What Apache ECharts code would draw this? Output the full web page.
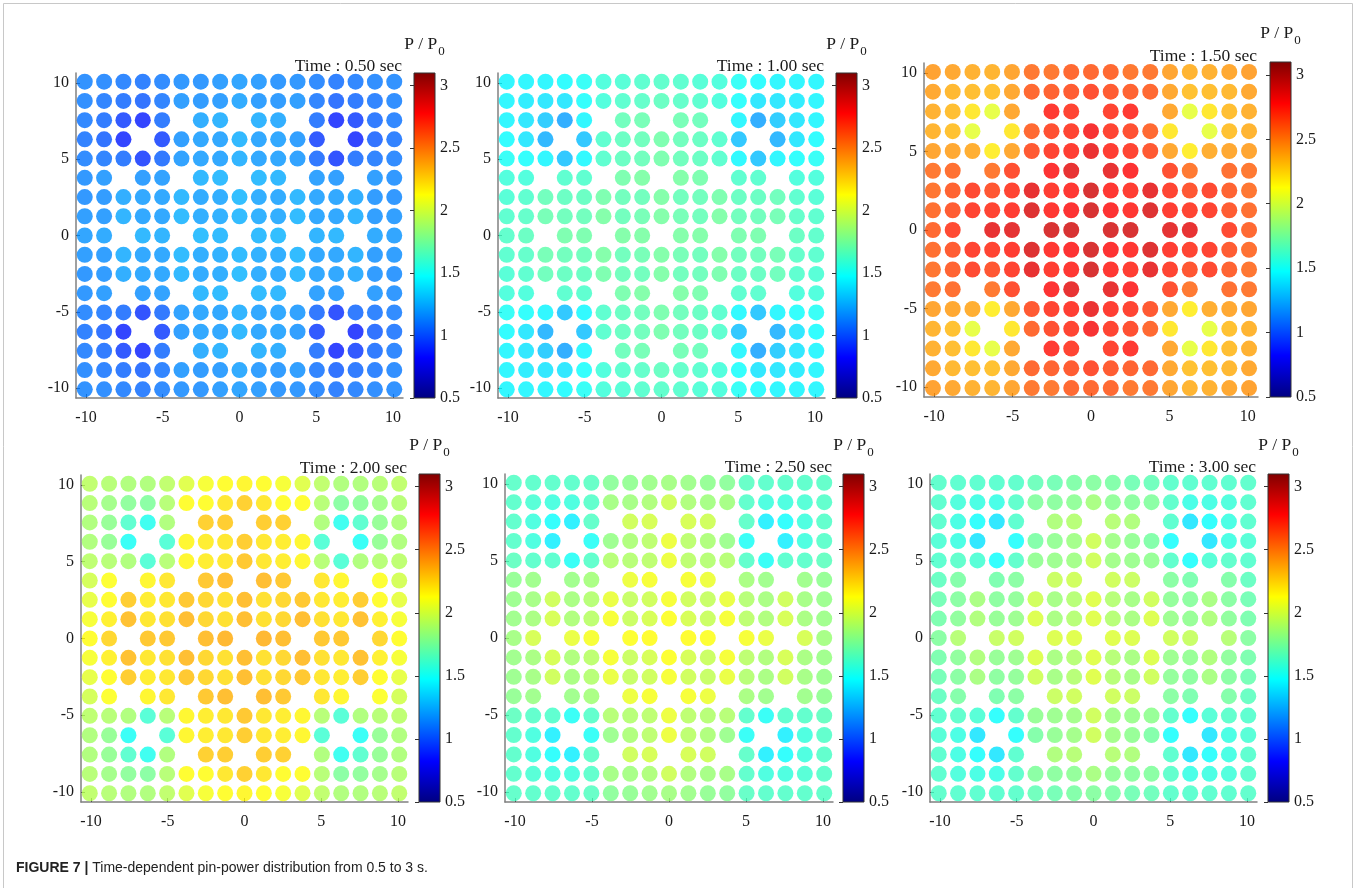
<!DOCTYPE html>
<html>
<head>
<meta charset="utf-8">
<title>Time-dependent pin-power distribution</title>
<script src="https://cdn.jsdelivr.net/npm/echarts@6/dist/echarts.min.js"></script>
<style>
  html, body { margin: 0; padding: 0; background: #fff; }
  #chart { width: 1356px; height: 888px; }
</style>
</head>
<body>
<div id="chart"></div>
<script>
const _ = null; // guide tube / instrument tube, no fuel pin

// pin centre coordinates, left -> right (also bottom -> top)
const pinPos = [-10.08, -8.82, -7.56, -6.30, -5.04, -3.78, -2.52, -1.26, 0,
                1.26, 2.52, 3.78, 5.04, 6.30, 7.56, 8.82, 10.08];

// P/P0 per pin, rows from top (y = 10.08) to bottom (y = -10.08)
const p050 = [
  [1.13,1.12,1.10,1.08,1.11,1.15,1.15,1.17,1.19,1.17,1.15,1.15,1.11,1.08,1.10,1.12,1.13],
  [1.12,1.09,1.06,1.03,1.09,1.17,1.16,1.17,1.21,1.17,1.16,1.17,1.09,1.03,1.06,1.09,1.12],
  [1.10,1.06,0.95,0.88,1.06,_,1.22,1.24,_,1.24,1.22,_,1.06,0.88,0.95,1.06,1.10],
  [1.08,1.03,0.88,_,0.95,1.17,1.20,1.20,1.25,1.20,1.20,1.17,0.95,_,0.88,1.03,1.08],
  [1.11,1.09,1.06,0.93,1.05,1.18,1.20,1.20,1.24,1.20,1.20,1.18,1.05,0.93,1.06,1.09,1.11],
  [1.15,1.17,_,1.17,1.18,_,1.25,1.26,_,1.26,1.25,_,1.18,1.17,_,1.17,1.15],
  [1.15,1.16,1.22,1.20,1.20,1.25,1.21,1.22,1.27,1.22,1.21,1.25,1.20,1.20,1.22,1.16,1.15],
  [1.17,1.17,1.24,1.20,1.20,1.26,1.22,1.23,1.26,1.23,1.22,1.26,1.20,1.20,1.24,1.17,1.17],
  [1.19,1.21,_,1.25,1.24,_,1.27,1.26,_,1.26,1.27,_,1.24,1.25,_,1.21,1.19],
  [1.17,1.17,1.24,1.20,1.20,1.26,1.22,1.23,1.26,1.23,1.22,1.26,1.20,1.20,1.24,1.17,1.17],
  [1.15,1.16,1.22,1.20,1.20,1.25,1.21,1.22,1.27,1.22,1.21,1.25,1.20,1.20,1.22,1.16,1.15],
  [1.15,1.17,_,1.17,1.18,_,1.25,1.26,_,1.26,1.25,_,1.18,1.17,_,1.17,1.15],
  [1.11,1.09,1.06,0.93,1.05,1.18,1.20,1.20,1.24,1.20,1.20,1.18,1.05,0.93,1.06,1.09,1.11],
  [1.08,1.03,0.88,_,0.95,1.17,1.20,1.20,1.25,1.20,1.20,1.17,0.95,_,0.88,1.03,1.08],
  [1.10,1.06,0.95,0.88,1.06,_,1.22,1.24,_,1.24,1.22,_,1.06,0.88,0.95,1.06,1.10],
  [1.12,1.09,1.06,1.03,1.09,1.17,1.16,1.17,1.21,1.17,1.16,1.17,1.09,1.03,1.06,1.09,1.12],
  [1.13,1.12,1.10,1.08,1.11,1.15,1.15,1.17,1.19,1.17,1.15,1.15,1.11,1.08,1.10,1.12,1.13]
];

const p100 = [
  [1.45,1.45,1.45,1.47,1.50,1.58,1.60,1.62,1.63,1.62,1.60,1.58,1.50,1.47,1.45,1.45,1.45],
  [1.45,1.42,1.40,1.40,1.48,1.58,1.62,1.64,1.66,1.64,1.62,1.58,1.48,1.40,1.40,1.42,1.45],
  [1.45,1.40,1.32,1.22,1.45,_,1.68,1.70,_,1.70,1.68,_,1.45,1.22,1.32,1.40,1.45],
  [1.47,1.40,1.25,_,1.30,1.62,1.66,1.68,1.72,1.68,1.66,1.62,1.30,_,1.25,1.40,1.47],
  [1.50,1.48,1.45,1.30,1.46,1.62,1.66,1.68,1.72,1.68,1.66,1.62,1.46,1.30,1.45,1.48,1.50],
  [1.58,1.58,_,1.62,1.62,_,1.72,1.74,_,1.74,1.72,_,1.62,1.62,_,1.58,1.58],
  [1.60,1.62,1.68,1.66,1.66,1.72,1.68,1.68,1.74,1.68,1.68,1.72,1.66,1.66,1.68,1.62,1.60],
  [1.62,1.64,1.70,1.68,1.68,1.74,1.68,1.70,1.74,1.70,1.68,1.74,1.68,1.68,1.70,1.64,1.62],
  [1.63,1.66,_,1.72,1.72,_,1.74,1.74,_,1.74,1.74,_,1.72,1.72,_,1.66,1.63],
  [1.62,1.64,1.70,1.68,1.68,1.74,1.68,1.70,1.74,1.70,1.68,1.74,1.68,1.68,1.70,1.64,1.62],
  [1.60,1.62,1.68,1.66,1.66,1.72,1.68,1.68,1.74,1.68,1.68,1.72,1.66,1.66,1.68,1.62,1.60],
  [1.58,1.58,_,1.62,1.62,_,1.72,1.74,_,1.74,1.72,_,1.62,1.62,_,1.58,1.58],
  [1.50,1.48,1.45,1.30,1.46,1.62,1.66,1.68,1.72,1.68,1.66,1.62,1.46,1.30,1.45,1.48,1.50],
  [1.47,1.40,1.25,_,1.30,1.62,1.66,1.68,1.72,1.68,1.66,1.62,1.30,_,1.25,1.40,1.47],
  [1.45,1.40,1.32,1.22,1.45,_,1.68,1.70,_,1.70,1.68,_,1.45,1.22,1.32,1.40,1.45],
  [1.45,1.42,1.40,1.40,1.48,1.58,1.62,1.64,1.66,1.64,1.62,1.58,1.48,1.40,1.40,1.42,1.45],
  [1.45,1.45,1.45,1.47,1.50,1.58,1.60,1.62,1.63,1.62,1.60,1.58,1.50,1.47,1.45,1.45,1.45]
];

const p150 = [
  [2.42,2.40,2.37,2.36,2.41,2.55,2.55,2.60,2.60,2.60,2.55,2.55,2.41,2.36,2.37,2.40,2.42],
  [2.40,2.35,2.33,2.32,2.40,2.60,2.62,2.64,2.68,2.64,2.62,2.60,2.40,2.32,2.33,2.35,2.40],
  [2.37,2.33,2.20,2.05,2.40,_,2.75,2.72,_,2.72,2.75,_,2.40,2.05,2.20,2.33,2.37],
  [2.36,2.32,2.05,_,2.20,2.60,2.68,2.72,2.80,2.72,2.68,2.60,2.20,_,2.05,2.32,2.36],
  [2.41,2.40,2.38,2.18,2.40,2.65,2.72,2.74,2.84,2.74,2.72,2.65,2.40,2.18,2.38,2.40,2.41],
  [2.55,2.58,_,2.55,2.68,_,2.78,2.85,_,2.85,2.78,_,2.68,2.55,_,2.58,2.55],
  [2.56,2.62,2.70,2.66,2.72,2.85,2.74,2.76,2.90,2.76,2.74,2.85,2.72,2.66,2.70,2.62,2.56],
  [2.58,2.64,2.72,2.72,2.74,2.88,2.76,2.78,2.90,2.78,2.76,2.88,2.74,2.72,2.72,2.64,2.58],
  [2.60,2.70,_,2.85,2.86,_,2.90,2.90,_,2.90,2.90,_,2.86,2.85,_,2.70,2.60],
  [2.58,2.64,2.72,2.72,2.74,2.88,2.76,2.78,2.90,2.78,2.76,2.88,2.74,2.72,2.72,2.64,2.58],
  [2.56,2.62,2.70,2.66,2.72,2.85,2.74,2.76,2.90,2.76,2.74,2.85,2.72,2.66,2.70,2.62,2.56],
  [2.55,2.58,_,2.55,2.68,_,2.78,2.85,_,2.85,2.78,_,2.68,2.55,_,2.58,2.55],
  [2.41,2.40,2.38,2.18,2.40,2.65,2.72,2.74,2.84,2.74,2.72,2.65,2.40,2.18,2.38,2.40,2.41],
  [2.36,2.32,2.05,_,2.20,2.60,2.68,2.72,2.80,2.72,2.68,2.60,2.20,_,2.05,2.32,2.36],
  [2.37,2.33,2.20,2.05,2.40,_,2.75,2.72,_,2.72,2.75,_,2.40,2.05,2.20,2.33,2.37],
  [2.40,2.35,2.33,2.32,2.40,2.60,2.62,2.64,2.68,2.64,2.62,2.60,2.40,2.32,2.33,2.35,2.40],
  [2.42,2.40,2.37,2.36,2.41,2.55,2.55,2.60,2.60,2.60,2.55,2.55,2.41,2.36,2.37,2.40,2.42]
];

const p200 = [
  [1.93,1.90,1.88,1.88,1.93,2.03,2.10,2.13,2.15,2.13,2.10,2.03,1.93,1.88,1.88,1.90,1.93],
  [1.90,1.84,1.78,1.76,1.90,2.13,2.13,2.20,2.27,2.20,2.13,2.13,1.90,1.76,1.78,1.84,1.90],
  [1.88,1.80,1.62,1.52,1.88,_,2.27,2.28,_,2.28,2.27,_,1.88,1.52,1.62,1.80,1.88],
  [1.88,1.80,1.50,_,1.60,2.15,2.18,2.20,2.28,2.20,2.18,2.15,1.60,_,1.50,1.80,1.88],
  [1.92,1.90,1.88,1.60,1.90,2.15,2.18,2.20,2.30,2.20,2.18,2.15,1.90,1.60,1.88,1.90,1.92],
  [1.99,2.12,_,2.15,2.20,_,2.30,2.33,_,2.33,2.30,_,2.20,2.15,_,2.12,1.99],
  [2.05,2.13,2.28,2.18,2.20,2.30,2.25,2.22,2.33,2.22,2.25,2.30,2.20,2.18,2.28,2.13,2.05],
  [2.10,2.17,2.32,2.20,2.22,2.33,2.25,2.22,2.33,2.22,2.25,2.33,2.22,2.20,2.32,2.17,2.10],
  [2.13,2.25,_,2.30,2.30,_,2.33,2.35,_,2.35,2.33,_,2.30,2.30,_,2.25,2.13],
  [2.10,2.17,2.32,2.20,2.22,2.33,2.25,2.22,2.33,2.22,2.25,2.33,2.22,2.20,2.32,2.17,2.10],
  [2.05,2.13,2.28,2.18,2.20,2.30,2.25,2.22,2.33,2.22,2.25,2.30,2.20,2.18,2.28,2.13,2.05],
  [1.99,2.12,_,2.15,2.20,_,2.30,2.33,_,2.33,2.30,_,2.20,2.15,_,2.12,1.99],
  [1.92,1.90,1.88,1.60,1.90,2.15,2.18,2.20,2.30,2.20,2.18,2.15,1.90,1.60,1.88,1.90,1.92],
  [1.88,1.80,1.50,_,1.60,2.15,2.18,2.20,2.28,2.20,2.18,2.15,1.60,_,1.50,1.80,1.88],
  [1.88,1.80,1.62,1.52,1.88,_,2.27,2.28,_,2.28,2.27,_,1.88,1.52,1.62,1.80,1.88],
  [1.90,1.84,1.78,1.76,1.90,2.13,2.13,2.20,2.27,2.20,2.13,2.13,1.90,1.76,1.78,1.84,1.90],
  [1.93,1.90,1.88,1.88,1.93,2.03,2.10,2.13,2.15,2.13,2.10,2.03,1.93,1.88,1.88,1.90,1.93]
];

const p250 = [
  [1.64,1.63,1.63,1.63,1.65,1.78,1.80,1.83,1.85,1.83,1.80,1.78,1.65,1.63,1.63,1.63,1.64],
  [1.63,1.60,1.57,1.57,1.63,1.85,1.85,1.88,1.98,1.88,1.85,1.85,1.63,1.57,1.57,1.60,1.63],
  [1.63,1.57,1.48,1.43,1.64,_,1.98,2.00,_,2.00,1.98,_,1.64,1.43,1.48,1.57,1.63],
  [1.63,1.57,1.43,_,1.50,1.82,1.88,1.92,2.07,1.92,1.88,1.82,1.50,_,1.43,1.57,1.63],
  [1.66,1.63,1.62,1.50,1.63,1.90,1.90,1.92,2.07,1.92,1.90,1.90,1.63,1.50,1.62,1.63,1.66],
  [1.80,1.83,_,1.83,1.86,_,2.07,2.10,_,2.10,2.07,_,1.86,1.83,_,1.83,1.80],
  [1.82,1.85,1.98,1.86,1.90,2.06,1.95,1.98,2.10,1.98,1.95,2.06,1.90,1.86,1.98,1.85,1.82],
  [1.83,1.86,2.00,1.88,1.92,2.10,1.96,2.00,2.12,2.00,1.96,2.10,1.92,1.88,2.00,1.86,1.83],
  [1.85,2.00,_,2.06,2.10,_,2.12,2.13,_,2.13,2.12,_,2.10,2.06,_,2.00,1.85],
  [1.83,1.86,2.00,1.88,1.92,2.10,1.96,2.00,2.12,2.00,1.96,2.10,1.92,1.88,2.00,1.86,1.83],
  [1.82,1.85,1.98,1.86,1.90,2.06,1.95,1.98,2.10,1.98,1.95,2.06,1.90,1.86,1.98,1.85,1.82],
  [1.80,1.83,_,1.83,1.86,_,2.07,2.10,_,2.10,2.07,_,1.86,1.83,_,1.83,1.80],
  [1.66,1.63,1.62,1.50,1.63,1.90,1.90,1.92,2.07,1.92,1.90,1.90,1.63,1.50,1.62,1.63,1.66],
  [1.63,1.57,1.43,_,1.50,1.82,1.88,1.92,2.07,1.92,1.88,1.82,1.50,_,1.43,1.57,1.63],
  [1.63,1.57,1.48,1.43,1.64,_,1.98,2.00,_,2.00,1.98,_,1.64,1.43,1.48,1.57,1.63],
  [1.63,1.60,1.57,1.57,1.63,1.85,1.85,1.88,1.98,1.88,1.85,1.85,1.63,1.57,1.57,1.60,1.63],
  [1.64,1.63,1.63,1.63,1.65,1.78,1.80,1.83,1.85,1.83,1.80,1.78,1.65,1.63,1.63,1.63,1.64]
];

const p300 = [
  [1.63,1.62,1.62,1.62,1.63,1.68,1.70,1.74,1.76,1.74,1.70,1.68,1.63,1.62,1.62,1.62,1.63],
  [1.62,1.58,1.56,1.55,1.63,1.76,1.77,1.79,1.86,1.79,1.77,1.76,1.63,1.55,1.56,1.58,1.62],
  [1.62,1.56,1.48,1.40,1.62,_,1.88,1.90,_,1.90,1.88,_,1.62,1.40,1.48,1.56,1.62],
  [1.60,1.56,1.40,_,1.48,1.74,1.80,1.84,1.98,1.84,1.80,1.74,1.48,_,1.40,1.56,1.60],
  [1.62,1.63,1.60,1.48,1.63,1.80,1.82,1.84,1.98,1.84,1.82,1.80,1.63,1.48,1.60,1.63,1.62],
  [1.66,1.74,_,1.72,1.76,_,1.96,1.98,_,1.98,1.96,_,1.76,1.72,_,1.74,1.66],
  [1.70,1.76,1.86,1.77,1.79,1.98,1.85,1.90,2.03,1.90,1.85,1.98,1.79,1.77,1.86,1.76,1.70],
  [1.72,1.78,1.88,1.80,1.82,2.02,1.86,1.90,2.03,1.90,1.86,2.02,1.82,1.80,1.88,1.78,1.72],
  [1.76,1.90,_,1.95,1.98,_,2.02,2.03,_,2.03,2.02,_,1.98,1.95,_,1.90,1.76],
  [1.72,1.78,1.88,1.80,1.82,2.02,1.86,1.90,2.03,1.90,1.86,2.02,1.82,1.80,1.88,1.78,1.72],
  [1.70,1.76,1.86,1.77,1.79,1.98,1.85,1.90,2.03,1.90,1.85,1.98,1.79,1.77,1.86,1.76,1.70],
  [1.66,1.74,_,1.72,1.76,_,1.96,1.98,_,1.98,1.96,_,1.76,1.72,_,1.74,1.66],
  [1.62,1.63,1.60,1.48,1.63,1.80,1.82,1.84,1.98,1.84,1.82,1.80,1.63,1.48,1.60,1.63,1.62],
  [1.60,1.56,1.40,_,1.48,1.74,1.80,1.84,1.98,1.84,1.80,1.74,1.48,_,1.40,1.56,1.60],
  [1.62,1.56,1.48,1.40,1.62,_,1.88,1.90,_,1.90,1.88,_,1.62,1.40,1.48,1.56,1.62],
  [1.62,1.58,1.56,1.55,1.63,1.76,1.77,1.79,1.86,1.79,1.77,1.76,1.63,1.55,1.56,1.58,1.62],
  [1.63,1.62,1.62,1.62,1.63,1.68,1.70,1.74,1.76,1.74,1.70,1.68,1.63,1.62,1.62,1.62,1.63]
];

const timeLabels = ["0.50", "1.00", "1.50", "2.00", "2.50", "3.00"];
const axisTicks = [-10, -5, 0, 5, 10];
const cbarTicks = [0.5, 1, 1.5, 2, 2.5, 3];
const cbarRange = [0.5, 3.1];
const axisRange = [-10.65, 10.65];

// MATLAB jet, 9 evenly spaced stops
const jet = ["#000080", "#0000ff", "#0080ff", "#00ffff", "#80ff80",
             "#ffff00", "#ff8000", "#ff0000", "#800000"];

// pixel boxes: [left, top, width, height]
const layout = [
  { plot: [76, 73, 327, 325],  cbar: [414, 73, 21, 325] },
  { plot: [498, 73, 327, 325], cbar: [836, 73, 21, 325] },
  { plot: [924, 63, 334, 334], cbar: [1270, 62, 21, 335] },
  { plot: [81, 475, 327, 327], cbar: [419, 474, 21, 328] },
  { plot: [505, 474, 328, 328], cbar: [843, 474, 21, 328] },
  { plot: [930, 474, 327, 328], cbar: [1268, 474, 21, 328] }
];

const maps = [p050, p100, p150, p200, p250, p300];
const serif = "Liberation Serif";
const txt = "#1a1a1a";

function toPoints(grid) {
  const pts = [];
  grid.forEach((row, r) => {
    row.forEach((v, c) => {
      if (v !== null) pts.push([pinPos[c], pinPos[16 - r], v]);
    });
  });
  return pts;
}

const grids = [], xAxes = [], yAxes = [], series = [], graphics = [];

layout.forEach((L, i) => {
  grids.push({ left: L.plot[0], top: L.plot[1], width: L.plot[2], height: L.plot[3] });
  const axisCommon = {
    type: "value",
    gridIndex: i,
    min: axisRange[0],
    max: axisRange[1],
    axisLine: { show: true, onZero: false, lineStyle: { color: "#808080", width: 1.5 } },
    axisTick: { show: true, inside: true, length: 4, customValues: axisTicks,
                lineStyle: { color: "#555", width: 1 } },
    splitLine: { show: false }
  };
  xAxes.push(Object.assign({}, axisCommon, {
    axisLabel: { customValues: axisTicks, margin: 12, color: txt, fontFamily: serif, fontSize: 16 }
  }));
  yAxes.push(Object.assign({}, axisCommon, {
    axisLabel: { customValues: axisTicks, margin: 7, color: txt, fontFamily: serif, fontSize: 16 }
  }));
  series.push({
    type: "scatter",
    name: "t = " + timeLabels[i] + " s",
    xAxisIndex: i,
    yAxisIndex: i,
    symbol: "circle",
    symbolSize: 16,
    silent: true,
    data: toPoints(maps[i])
  });

  // "Time : x sec" label
  graphics.push({
    type: "text",
    x: L.plot[0] + L.plot[2] - 1,
    y: L.plot[1] - 7,
    style: {
      text: "Time : " + timeLabels[i] + " sec",
      font: "17.5px " + serif,
      fill: txt,
      align: "right", textAlign: "right",
      verticalAlign: "middle", textVerticalAlign: "middle"
    }
  });
  // "P / P0" over the colour bar
  graphics.push({
    type: "text",
    x: L.cbar[0] + L.cbar[2] / 2,
    y: L.cbar[1] - 29,
    style: {
      text: "{a|P / P}{b|0}",
      rich: {
        a: { font: "17.5px " + serif, fill: txt },
        b: { font: "13px " + serif, fill: txt, padding: [16, 0, 0, 1] }
      },
      align: "center", textAlign: "center",
      verticalAlign: "middle", textVerticalAlign: "middle"
    }
  });
});

const stops = jet.slice().reverse().map((c, k) => ({ offset: k / (jet.length - 1), color: c }));

layout.forEach((L, i) => {
  const g = 6 + i;
  grids.push({ left: L.cbar[0], top: L.cbar[1], width: L.cbar[2], height: L.cbar[3] });
  xAxes.push({ type: "value", gridIndex: g, min: 0, max: 1, show: false });
  yAxes.push({
    type: "value",
    gridIndex: g,
    min: cbarRange[0],
    max: cbarRange[1],
    position: "right",
    axisLine: { show: false },
    axisTick: { show: true, inside: true, length: 4, customValues: cbarTicks,
                lineStyle: { color: "#333", width: 1 } },
    axisLabel: { customValues: cbarTicks, margin: 5, color: txt, fontFamily: serif, fontSize: 16 },
    splitLine: { show: false }
  });
  series.push({
    type: "custom",
    xAxisIndex: g,
    yAxisIndex: g,
    silent: true,
    data: [[0, cbarRange[0], cbarRange[1]]],
    renderItem: function (params, api) {
      const lo = api.coord([0, api.value(1)]);
      const hi = api.coord([1, api.value(2)]);
      return {
        type: "rect",
        shape: { x: lo[0], y: hi[1], width: hi[0] - lo[0], height: lo[1] - hi[1] },
        style: {
          fill: new echarts.graphic.LinearGradient(0, 0, 0, 1, stops),
          stroke: "#333",
          lineWidth: 1
        }
      };
    }
  });
});

// caption + outer frame
graphics.push({
  type: "text",
  x: 16,
  y: 868,
  style: {
    text: "{b|FIGURE 7 |} Time-dependent pin-power distribution from 0.5 to 3 s.",
    font: "14px Liberation Sans",
    fill: "#222",
    rich: { b: { font: "bold 14px Liberation Sans", fill: "#222" } },
    verticalAlign: "middle", textVerticalAlign: "middle"
  }
});
graphics.push({
  type: "rect",
  z: -10,
  shape: { x: 3.5, y: 3.5, width: 1349, height: 900 },
  style: { fill: "none", stroke: "#c8c8c8", lineWidth: 1 }
});

const chart = echarts.init(document.getElementById("chart"));
chart.setOption({
  animation: false,
  backgroundColor: "#fff",
  grid: grids,
  xAxis: xAxes,
  yAxis: yAxes,
  visualMap: {
    type: "continuous",
    show: false,
    seriesIndex: [0, 1, 2, 3, 4, 5],
    dimension: 2,
    min: cbarRange[0],
    max: cbarRange[1],
    inRange: { color: jet }
  },
  series: series,
  graphic: graphics
});
window.addEventListener("resize", () => chart.resize());
</script>
</body>
</html>
